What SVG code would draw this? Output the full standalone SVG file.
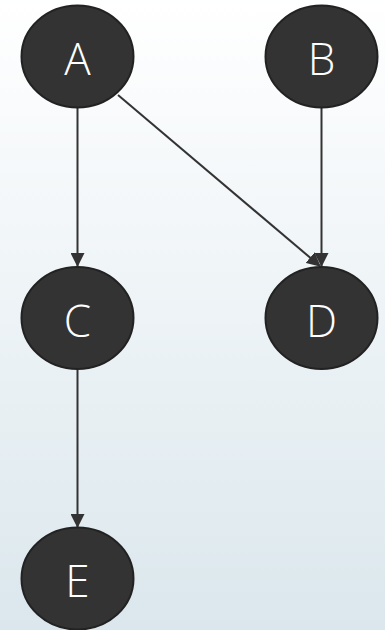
<svg xmlns="http://www.w3.org/2000/svg" width="385" height="630" viewBox="0 0 385 630">
<defs>
<linearGradient id="bg" x1="0" y1="0" x2="0" y2="1">
<stop offset="0" stop-color="#ffffff"/>
<stop offset="1" stop-color="#dbe7ed"/>
</linearGradient>
<marker id="arr" viewBox="0 0 14 14" refX="13" refY="7" markerWidth="14" markerHeight="14" markerUnits="userSpaceOnUse" orient="auto">
<path d="M0,0 L14,7 L0,14 Z" fill="#333333"/>
</marker>
<style>
.node ellipse{fill:#333333;stroke:#222222;stroke-width:2}
.node text{fill:#ffffff;font-family:"Open Sans","Noto Sans","DejaVu Sans",sans-serif;font-size:44px;font-weight:300;text-anchor:middle}
.edges line{stroke:#333333;stroke-width:2;marker-end:url(#arr)}
</style>
</defs>
<rect x="0" y="0" width="385" height="630" fill="url(#bg)"/>
<g id="edges" class="edges">
<line x1="77.5" y1="108" x2="77.5" y2="266"/>
<line x1="118" y1="95" x2="320" y2="266"/>
<line x1="321.5" y1="108" x2="321.5" y2="266"/>
<line x1="77.5" y1="370" x2="77.5" y2="527"/>
</g>
<g id="A" class="node"><ellipse cx="77.5" cy="56.5" rx="56" ry="51"/><text x="77.5" y="75">A</text></g>
<g id="B" class="node"><ellipse cx="321.5" cy="56.5" rx="56" ry="51"/><text x="321.5" y="75">B</text></g>
<g id="C" class="node"><ellipse cx="77.5" cy="318" rx="56" ry="51"/><text x="77.5" y="336.5">C</text></g>
<g id="D" class="node"><ellipse cx="321.5" cy="318" rx="56" ry="51"/><text x="321.5" y="336.5">D</text></g>
<g id="E" class="node"><ellipse cx="77.5" cy="578.5" rx="56" ry="51"/><text x="77.5" y="597">E</text></g>
</svg>
